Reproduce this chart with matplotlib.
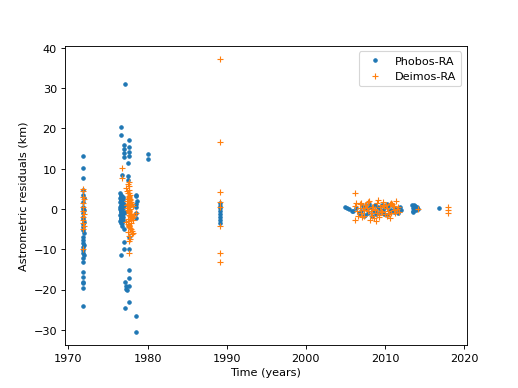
import matplotlib
matplotlib.use("Agg")
import matplotlib.pyplot as plt

# Phobos-RA (year, residual km)
phobos_t = [
    # 1972 campaign
    1971.9, 1971.9, 1971.9, 1971.85, 1971.9, 1971.95, 1971.9, 1971.85, 1971.9, 1971.95,
    1971.9, 1971.85, 1971.9, 1971.95, 1971.9, 1971.85, 1971.9, 1971.95, 1971.9, 1971.85,
    1971.9, 1971.95, 1971.9, 1971.85, 1971.9, 1971.95, 1971.9, 1971.85, 1971.9, 1971.9,
    1971.85, 1971.9, 1971.9, 1971.9,
    # 1976-1978 outliers
    1977.1, 1976.6, 1976.6, 1977.0, 1977.0, 1977.0, 1977.0, 1977.6, 1977.7, 1977.7,
    1977.6, 1977.5, 1976.8, 1977.5, 1977.5, 1978.6, 1978.6, 1978.6, 1978.5, 1976.8,
    1977.0, 1977.6, 1977.0, 1977.0, 1977.7, 1976.7, 1977.7, 1977.6, 1977.2, 1977.3,
    1977.3, 1977.4, 1977.6, 1977.6, 1977.2, 1978.6, 1978.6, 1978.7, 1978.6, 1978.5,
    # 1976-1978 dense
    1976.5, 1976.6, 1976.7, 1976.8, 1976.6, 1976.9, 1976.7, 1976.5, 1976.8, 1977.0,
    1976.6, 1976.7, 1976.9, 1976.5, 1976.8, 1976.7, 1976.6, 1977.0, 1976.7, 1976.5,
    1976.8, 1976.9, 1976.6, 1976.7, 1976.8, 1976.5, 1977.0, 1976.7, 1976.6, 1976.9,
    1976.8, 1976.7, 1976.5, 1977.1, 1976.7, 1976.6, 1976.6, 1976.8, 1976.9, 1976.7,
    1976.6, 1976.8, 1976.5, 1976.9,
    # 1980
    1980.0, 1980.0,
    # 1989
    1989.2, 1989.2, 1989.2, 1989.2, 1989.2, 1989.2, 1989.2, 1989.2,
    # 2005-2012
    2005.0, 2005.2, 2005.8, 2006.4, 2006.7, 2007.0, 2007.2, 2007.5, 2007.7, 2007.9,
    2008.1, 2008.3, 2008.5, 2008.7, 2008.9, 2009.1, 2009.4, 2009.6, 2009.8, 2010.0,
    2010.2, 2010.4, 2010.6, 2010.9, 2011.1, 2011.3, 2011.5, 2011.7, 2007.4, 2008.0,
    2008.8, 2009.3, 2010.3, 2010.8, 2006.0, 2006.9, 2011.9, 2012.0, 2005.5, 2009.9,
    # 2013-2017
    2013.4, 2013.5, 2013.6, 2013.7, 2013.8, 2013.9, 2014.0, 2014.2, 2013.6, 2013.8,
    2016.8,
]
phobos_r = [
    13.1, 10.1, 7.8, 4.7, 3.5, 2.7, 1.8, 0.6, 0.0, -0.2,
    -0.9, -1.9, -2.5, -3.2, -3.8, -4.4, -5.2, -6.0, -6.9, -7.7,
    -8.3, -8.9, -9.3, -10.2, -10.8, -11.4, -12.2, -13.1, -15.5, -16.8,
    -18.0, -18.4, -19.7, -24.1,
    30.9, 20.4, 18.4, 15.9, 15.0, 14.0, 13.0, 17.1, 15.3, 14.2,
    13.2, 11.5, 8.4, 8.2, 7.2, 3.5, 3.3, 1.2, -2.3, -3.5,
    -5.0, -6.9, -8.1, -9.8, -9.8, -11.4, -15.1, -17.2, -18.0, -19.0,
    -19.8, -20.2, -19.1, -23.0, -24.6, -26.5, -30.4, 2.0, 0.5, -1.0,
    4.1, 3.6, 3.2, 2.9, 2.6, 2.4, 2.0, 1.7, 1.3, 1.1,
    0.8, 0.6, 0.3, 0.1, -0.1, -0.4, -0.6, -0.9, -1.1, -1.4,
    -1.6, -1.9, -2.1, -2.4, -2.7, -3.0, 0.9, 0.2, -0.3, 1.5,
    -1.2, 2.2, 0.4, -0.7, 1.9, -2.2, -3.4, -4.2, 3.0, 1.0,
    -0.5, -1.7, 2.7, -2.6,
    13.6, 12.4,
    1.5, 0.8, 0.2, -0.5, -1.2, -2.0, -2.8, -3.5,
    0.4, 0.2, -0.5, 0.3, -1.0, -0.6, 0.8, -1.5, 0.1, -0.9,
    0.6, -1.8, -0.3, 0.9, -1.2, 0.4, -0.8, 1.1, -0.2, 0.5,
    -1.4, 0.7, -0.4, 1.0, -0.7, 0.3, 0.0, -0.9, -1.6, 1.3,
    -0.5, 0.2, 1.2, -0.2, -0.4, -1.1, 0.6, -0.3, 0.0, -1.3,
    0.9, 0.2, -0.6, 1.1, 0.5, -0.3, 0.4, 0.1, -0.8, 0.7,
    0.2,
]

# Deimos-RA (year, residual km)
deimos_t = [
    # 1972
    1971.9, 1971.85, 1971.9, 1971.95, 1971.9, 1971.85, 1971.9, 1971.95, 1971.9, 1971.85,
    1971.9, 1971.95, 1971.9, 1971.85,
    # 1976-1978 outliers
    1976.8, 1976.8, 1977.6, 1977.8, 1977.7,
    # 1976-1978 dense
    1977.3, 1977.4, 1977.5, 1977.6, 1977.7, 1977.8, 1977.9, 1978.0, 1978.1, 1977.4,
    1977.5, 1977.6, 1977.7, 1977.8, 1977.9, 1978.0, 1978.2, 1977.3, 1977.5, 1977.6,
    1977.7, 1977.9, 1978.0, 1978.1, 1977.4, 1977.6, 1977.7, 1977.8, 1977.9, 1978.1,
    1977.5, 1977.6, 1977.8, 1977.9, 1978.0, 1977.4, 1977.7, 1977.8, 1978.3, 1978.5,
    1977.5, 1977.6, 1977.7, 1977.8, 1977.4, 1977.5, 1977.6, 1977.7, 1977.8, 1977.9,
    1977.5, 1977.6, 1977.7, 1977.5, 1977.6, 1977.7, 1977.8, 1977.6, 1977.5, 1977.7,
    # 1989
    1989.2, 1989.2, 1989.2, 1989.2, 1989.2, 1989.2, 1989.2, 1989.2,
    # 2006-2012
    2006.2, 2006.2, 2006.2, 2006.5, 2006.8, 2007.0, 2007.2, 2007.4, 2007.6, 2007.8,
    2008.0, 2008.2, 2008.4, 2008.6, 2008.8, 2009.0, 2009.2, 2009.4, 2009.6, 2009.8,
    2010.0, 2010.2, 2010.4, 2010.6, 2010.8, 2011.0, 2011.2, 2011.4, 2011.6, 2011.8,
    2007.1, 2007.5, 2007.9, 2008.3, 2008.7, 2009.1, 2009.5, 2010.1, 2010.5, 2011.1,
    2007.3, 2008.1, 2008.5, 2009.3, 2010.7, 2011.5, 2006.3, 2006.6, 2007.7, 2008.9,
    2009.7, 2010.3, 2010.9, 2011.3, 2007.0, 2008.4, 2009.0, 2009.9, 2010.6, 2006.9,
    # later
    2014.2, 2018.0, 2018.0, 2018.0,
]
deimos_r = [
    5.0, 4.6, 3.0, 2.4, 1.6, 0.4, -0.5, -1.3, -2.0, -2.8,
    -3.5, -4.2, -5.0, -9.8,
    10.1, 7.6, 6.8, -7.5, -11.0,
    5.2, 4.5, 3.9, 3.3, 2.8, 2.2, 1.8, 1.2, 0.7, 0.3,
    -0.2, -0.6, -1.0, -1.5, -1.9, -2.3, -2.8, -3.2, -3.6, -4.1,
    -4.5, -5.0, -5.4, -5.9, 0.9, 1.6, -0.4, 2.5, -1.2, -2.0,
    -3.0, 4.0, 0.1, -2.6, -6.3, 1.0, -7.8, -4.8, -1.5, -1.0,
    6.2, 5.6, 4.8, 3.6, 2.0, 1.3, 0.5, -0.8, -1.7, -3.4,
    -2.4, -3.9, -4.3, -5.6, -6.6, -0.3, 1.0, 3.0, 2.6, -1.4,
    37.1, 16.7, 4.3, 1.8, 0.6, -4.2, -10.8, -13.1,
    3.9, -2.7, 0.8, -0.5, 1.2, -1.1, 0.3, -1.8, 1.0, -0.4,
    2.1, -0.9, 0.6, -2.3, -0.2, 1.5, -1.4, 0.4, -0.7, 1.8,
    -1.2, 0.2, -0.5, 1.3, -1.0, 0.7, -0.3, 1.9, 0.5, -0.8,
    -2.0, 0.9, 1.7, -1.6, 0.1, 2.3, -0.6, 1.1, -1.3, 0.8,
    -0.3, -2.7, 0.5, -1.9, 1.4, -0.1, 1.4, -1.6, 0.2, -2.9,
    0.9, -1.7, 1.2, -0.9, 1.6, -0.1, -1.1, 0.7, -2.1, 0.3,
    -0.1, 0.5, -0.3, -1.1,
]

fig = plt.figure(figsize=(6.4, 4.8), dpi=81)
ax = fig.add_subplot(111)
ax.plot(phobos_t, phobos_r, '.', label='Phobos-RA')
ax.plot(deimos_t, deimos_r, '+', label='Deimos-RA')
ax.set_xlabel('Time (years)')
ax.set_ylabel('Astrometric residuals (km)')
ax.legend(loc='upper right')
fig.savefig('out.png', dpi=81)
